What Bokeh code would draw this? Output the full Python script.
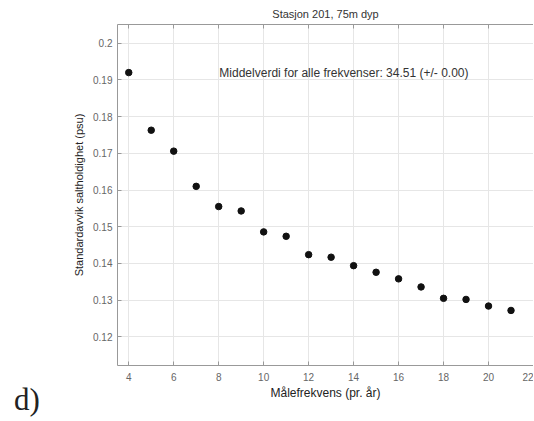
from bokeh.plotting import figure
from bokeh.models import Range1d, FixedTicker, Label, LinearAxis, Div
from bokeh.layouts import row
from bokeh.embed import file_html
from bokeh.resources import INLINE

freq = [4, 5, 6, 7, 8, 9, 10, 11, 12, 13, 14, 15, 16, 17, 18, 19, 20, 21]
std_salt = [0.1920, 0.1763, 0.1706, 0.1610, 0.1555, 0.1543, 0.1486, 0.1474,
            0.1424, 0.1417, 0.1394, 0.1376, 0.1358, 0.1336, 0.1305, 0.1302,
            0.1284, 0.1272]
x_ticks = [4, 6, 8, 10, 12, 14, 16, 18, 20, 22]
y_ticks = [0.12, 0.13, 0.14, 0.15, 0.16, 0.17, 0.18, 0.19, 0.2]
title = "Stasjon 201, 75m dyp"
note = "Middelverdi for alle frekvenser: 34.51 (+/- 0.00)"
panel = "d)"
xlab = "Målefrekvens (pr. år)"
ylab = "Standardavvik saltholdighet (psu)"

FONT = "Liberation Sans"

p = figure(width=473, height=405, output_backend="svg", toolbar_location=None,
           x_range=Range1d(3.5, 22.0), y_range=Range1d(0.1122, 0.2051),
           min_border_left=57, min_border_right=0, min_border_top=19,
           min_border_bottom=40)
p.title.text = title
p.title.align = "center"
p.title.text_font = FONT
p.title.text_font_size = "11px"
p.title.text_font_style = "normal"
p.title.text_color = "#333333"
p.title.offset = 0

p.outline_line_color = None
p.background_fill_color = "white"
p.border_fill_color = "white"

for ax in (p.xaxis[0], p.yaxis[0]):
    ax.axis_line_color = "#999999"
    ax.major_tick_line_color = "#999999"
    ax.major_tick_in = 4
    ax.major_tick_out = 0
    ax.minor_tick_line_color = None
    ax.major_label_text_font = FONT
    ax.major_label_text_font_size = "10px"
    ax.major_label_text_color = "#666666"
    ax.axis_label_text_font = FONT
    ax.axis_label_text_font_size = "11px"
    ax.axis_label_text_font_style = "normal"
    ax.axis_label_text_color = "#222222"

p.xaxis.ticker = FixedTicker(ticks=x_ticks)
p.yaxis.ticker = FixedTicker(ticks=y_ticks)
p.xaxis.axis_label = xlab
p.xaxis.axis_label_text_font_size = "12px"
p.yaxis.axis_label = ylab
p.xaxis.major_label_standoff = 7
p.xaxis.axis_label_standoff = 2
p.yaxis.major_label_standoff = 5

top = LinearAxis(ticker=FixedTicker(ticks=x_ticks), major_label_text_font_size="0px",
                 axis_line_color="#999999", major_tick_line_color="#999999",
                 major_tick_in=4, major_tick_out=0, minor_tick_line_color=None,
                 major_label_standoff=0)
p.add_layout(top, "above")

p.grid.grid_line_color = "#e6e6e6"
p.xgrid.ticker = FixedTicker(ticks=x_ticks)
p.ygrid.ticker = FixedTicker(ticks=y_ticks)

p.scatter(freq, std_salt, size=6.5, color="#111111")

p.add_layout(Label(x=8.03, y=0.1920, text=note, text_font=FONT, text_font_size="12px",
                   text_color="#333333", text_baseline="middle", text_font_style="normal"))

div = Div(text=("<div style=\"font-family:'Liberation Serif';font-size:31px;"
                "line-height:10px;color:#222222;padding-top:395px;padding-left:14px;\">"
                + panel + "</div>"),
          width=60, height=405, margin=(0, 0, 0, 0))

layout = row(div, p, spacing=0)

open("out.html", "w").write(file_html(layout, INLINE))
